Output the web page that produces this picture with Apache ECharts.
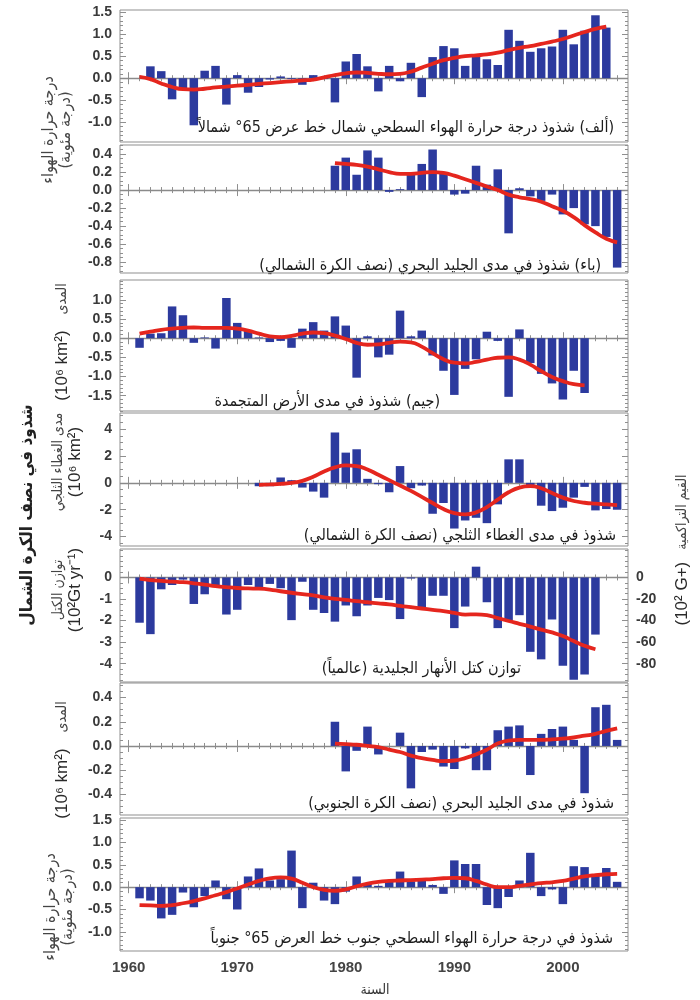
<!DOCTYPE html>
<html><head><meta charset="utf-8">
<script src="https://cdn.jsdelivr.net/npm/echarts@6/dist/echarts.min.js"></script>
<style>html,body{margin:0;padding:0;background:#fff}#c{width:700px;height:1000px}</style>
</head><body><div id="c"></div><script>
// ---------- data ----------
const YEARS = [1961,1962,1963,1964,1965,1966,1967,1968,1969,1970,1971,1972,1973,1974,1975,1976,1977,1978,1979,1980,1981,1982,1983,1984,1985,1986,1987,1988,1989,1990,1991,1992,1993,1994,1995,1996,1997,1998,1999,2000,2001,2002,2003,2004,2005];
const DECADE_LABELS = [1960,1970,1980,1990,2000];
const YEAR_TICKS = [1960,1961,1962,1963,1964,1965,1966,1967,1968,1969,1970,1971,1972,1973,1974,1975,1976,1977,1978,1979,1980,1981,1982,1983,1984,1985,1986,1987,1988,1989,1990,1991,1992,1993,1994,1995,1996,1997,1998,1999,2000,2001,2002,2003,2004,2005];

// (a) air temperature north of 65N
const airN = [null,0.27,0.16,-0.48,-0.25,-1.07,0.17,0.28,-0.60,0.07,-0.33,-0.20,-0.03,0.04,-0.02,-0.15,0.07,-0.02,-0.55,0.38,0.55,0.27,-0.30,0.28,-0.07,0.35,-0.43,0.48,0.73,0.68,0.28,0.50,0.43,0.30,1.10,0.85,0.60,0.68,0.72,1.10,0.77,1.08,1.43,1.15,null];
const airNSmooth = [0.03,-0.02,-0.12,-0.20,-0.25,-0.26,-0.24,-0.21,-0.19,-0.17,-0.15,-0.13,-0.11,-0.09,-0.07,-0.05,-0.03,0.02,0.07,0.11,0.13,0.12,0.10,0.09,0.10,0.15,0.24,0.33,0.41,0.46,0.50,0.52,0.54,0.58,0.64,0.69,0.73,0.78,0.83,0.89,0.97,1.05,1.12,1.17,null];
// (b) NH sea ice extent
const seaIceN = [null,null,null,null,null,null,null,null,null,null,null,null,null,null,null,null,null,null,0.27,0.36,0.17,0.44,0.36,-0.02,0.01,0.19,0.29,0.45,0.20,-0.05,-0.04,0.27,0.06,0.23,-0.48,0.02,-0.07,-0.12,-0.05,-0.27,-0.20,-0.38,-0.40,-0.52,-0.86];
const seaIceNSmooth = [null,null,null,null,null,null,null,null,null,null,null,null,null,null,null,null,null,null,0.30,0.29,0.28,0.26,0.23,0.20,0.18,0.18,0.19,0.20,0.19,0.16,0.12,0.08,0.04,0.00,-0.05,-0.08,-0.10,-0.13,-0.18,-0.23,-0.30,-0.39,-0.47,-0.54,-0.58];
// (c) frozen ground extent
const frozen = [-0.25,0.12,0.13,0.83,0.60,-0.12,0.02,-0.27,1.05,0.40,0.20,0.02,-0.10,-0.07,-0.25,0.25,0.42,0.20,0.57,0.33,-1.03,0.05,-0.50,-0.43,0.72,0.05,0.20,-0.45,-0.85,-1.48,-0.80,-0.55,0.17,-0.07,-1.53,0.23,-0.65,-0.93,-1.18,-1.60,-0.85,-1.43,null,null,null];
const frozenSmooth = [0.12,0.17,0.22,0.25,0.27,0.28,0.27,0.27,0.27,0.25,0.20,0.12,0.05,0.03,0.06,0.12,0.15,0.13,0.07,-0.02,-0.12,-0.17,-0.16,-0.12,-0.09,-0.11,-0.22,-0.39,-0.55,-0.64,-0.66,-0.62,-0.56,-0.51,-0.50,-0.56,-0.69,-0.86,-1.01,-1.12,-1.20,-1.23,null,null,null];
// (d) NH snow cover extent
const snow = [null,null,null,null,null,null,null,null,null,null,null,-0.25,-0.25,0.40,0.20,-0.35,-0.65,-1.10,3.75,2.25,2.50,0.30,-0.10,-0.70,1.25,-0.40,-0.20,-2.30,-1.50,-3.40,-2.80,-2.60,-3.00,-1.60,1.75,1.75,-0.20,-1.70,-2.10,-1.85,-1.10,-0.30,-2.05,-1.95,-2.00];
const snowSmooth = [null,null,null,null,null,null,null,null,null,null,null,-0.15,-0.12,-0.08,0.00,0.15,0.45,0.85,1.15,1.30,1.25,1.00,0.60,0.20,-0.20,-0.60,-1.05,-1.50,-1.95,-2.25,-2.35,-2.20,-1.80,-1.25,-0.70,-0.35,-0.25,-0.40,-0.75,-1.10,-1.35,-1.48,-1.55,-1.60,-1.65];
// (e) glacier mass balance
const glacier = [-2.10,-2.63,-0.55,-0.35,-0.10,-1.23,-0.78,-0.38,-1.72,-1.50,-0.35,-0.45,-0.30,-0.50,-1.98,-0.20,-1.50,-1.65,-2.05,-1.30,-1.80,-1.30,-0.95,-1.05,-1.93,-0.05,-1.38,-0.85,-0.85,-2.35,-1.35,0.50,-1.15,-2.35,-2.00,-1.75,-3.45,-3.80,-1.95,-4.10,-4.75,-4.50,-2.65,null,null];
const glacierCumulative = [-0.05,-0.12,-0.16,-0.19,-0.22,-0.27,-0.33,-0.40,-0.45,-0.49,-0.51,-0.52,-0.56,-0.64,-0.71,-0.77,-0.83,-0.92,-0.99,-1.04,-1.10,-1.15,-1.20,-1.25,-1.32,-1.38,-1.44,-1.50,-1.56,-1.64,-1.72,-1.71,-1.75,-1.88,-2.02,-2.15,-2.28,-2.42,-2.55,-2.72,-2.95,-3.17,-3.33,null,null];
// (f) SH sea ice extent
const seaIceS = [null,null,null,null,null,null,null,null,null,null,null,null,null,null,null,null,null,null,0.20,-0.21,-0.04,0.16,-0.07,0.00,0.11,-0.35,-0.05,-0.03,-0.17,-0.19,-0.02,-0.20,-0.20,0.13,0.16,0.17,-0.24,0.10,0.14,0.16,0.05,-0.39,0.32,0.34,0.05];
const seaIceSSmooth = [null,null,null,null,null,null,null,null,null,null,null,null,null,null,null,null,null,null,0.02,0.015,0.01,0.00,-0.01,-0.03,-0.05,-0.08,-0.10,-0.115,-0.125,-0.12,-0.10,-0.07,-0.03,0.02,0.045,0.05,0.05,0.05,0.055,0.06,0.07,0.085,0.10,0.125,0.145];
// (g) air temperature south of 65S
const airS = [-0.25,-0.30,-0.70,-0.62,-0.12,-0.45,-0.20,0.15,-0.27,-0.50,0.24,0.42,0.15,0.18,0.82,-0.47,0.10,-0.30,-0.38,-0.10,0.24,0.08,0.03,0.15,0.35,0.13,0.15,0.05,-0.15,0.60,0.52,0.52,-0.40,-0.47,-0.22,0.15,0.77,-0.20,-0.05,-0.38,0.47,0.45,0.27,0.43,0.12];
const airSSmooth = [-0.40,-0.41,-0.42,-0.40,-0.36,-0.31,-0.25,-0.18,-0.11,-0.03,0.06,0.14,0.20,0.22,0.19,0.10,0.00,-0.06,-0.08,-0.05,0.02,0.08,0.12,0.14,0.15,0.16,0.17,0.18,0.20,0.21,0.20,0.14,0.06,0.00,0.00,0.03,0.06,0.09,0.11,0.14,0.19,0.24,0.27,0.29,0.30];

const ticksAirN = [-1,-0.5,0,0.5,1,1.5];
const ticksSeaIceN = [-0.8,-0.6,-0.4,-0.2,0,0.2,0.4];
const ticksFrozen = [-1.5,-1,-0.5,0,0.5,1];
const ticksSnow = [-4,-2,0,2,4];
const ticksGlacier = [-4,-3,-2,-1,0];
const ticksSeaIceS = [-0.4,-0.2,0,0.2,0.4];
const ticksAirS = [-1,-0.5,0,0.5,1,1.5];

const labelsText = [
 '(ألف) شذوذ درجة حرارة الهواء السطحي شمال خط عرض 65° شمالاً',
 '(باء) شذوذ في مدى الجليد البحري (نصف الكرة الشمالي)',
 '(جيم) شذوذ في مدى الأرض المتجمدة',
 'شذوذ في مدى الغطاء الثلجي (نصف الكرة الشمالي)',
 'توازن كتل الأنهار الجليدية (عالمياً)',
 'شذوذ في مدى الجليد البحري (نصف الكرة الجنوبي)',
 'شذوذ في درجة حرارة الهواء السطحي جنوب خط العرض 65° جنوباً'
];

// ---------- layout ----------
const XMIN = 1959.2, XMAX = 2006;
const BAR = '#2C3A9E', RED = '#E5261E', FRAME = '#8f8f8f';
const NUMFONT = 'Liberation Sans, Arial, sans-serif';
const ARFONT = 'DejaVu Sans Condensed, DejaVu Sans, sans-serif';

const panels = [
 {bars: airN, line: airNSmooth, top: 10, h: 132, min: -1.45, max: 1.55, ticks: ticksAirN, minor: 0.1, dec: 1},
 {bars: seaIceN, line: seaIceNSmooth, top: 145, h: 128, min: -0.92, max: 0.5, ticks: ticksSeaIceN, minor: 0.05, dec: 1},
 {bars: frozen, line: frozenSmooth, top: 280, h: 131, min: -1.9, max: 1.52, ticks: ticksFrozen, minor: 0.1, dec: 1},
 {bars: snow, line: snowSmooth, top: 413, h: 133, min: -4.7, max: 5.2, ticks: ticksSnow, minor: 0.5, dec: 0},
 {bars: glacier, line: glacierCumulative, top: 549, h: 133, min: -4.85, max: 1.32, ticks: ticksGlacier, minor: 0.25, dec: 0, right: v => String(Math.round(v * 20))},
 {bars: seaIceS, line: seaIceSSmooth, top: 683, h: 132, min: -0.57, max: 0.52, ticks: ticksSeaIceS, minor: 0.05, dec: 1},
 {bars: airS, line: airSSmooth, top: 818, h: 133, min: -1.43, max: 1.55, ticks: ticksAirS, minor: 0.1, dec: 1}
];

function pairs(vals) { const out = []; vals.forEach((v, i) => { if (v !== null) out.push([YEARS[i], v]); }); return out; }
function steps(min, max, step) { const out = []; const a = Math.ceil(min / step - 1e-9), b = Math.floor(max / step + 1e-9); for (let k = a; k <= b; k++) out.push(+(k * step).toFixed(6)); return out; }

const grid = [], xAxis = [], yAxis = [], series = [];
const tickLine = {color: FRAME, width: 1};
panels.forEach((p, i) => {
  grid.push({left: 120, right: 72, top: p.top, height: p.h, show: true, borderColor: FRAME, borderWidth: 1, backgroundColor: 'transparent'});
  const xBase = {type: 'value', gridIndex: i, min: XMIN, max: XMAX, axisLine: {show: false}, splitLine: {show: false}};
  ['bottom', 'top'].forEach(pos => {
    xAxis.push(Object.assign({}, xBase, {position: pos,
      axisTick: {show: true, inside: true, length: 6, customValues: DECADE_LABELS, lineStyle: tickLine},
      axisLabel: {show: pos === 'bottom' && i === panels.length - 1, customValues: DECADE_LABELS, margin: 9,
        fontFamily: NUMFONT, fontWeight: 'bold', fontSize: 15, color: '#444', formatter: v => String(v)}}));
    xAxis.push(Object.assign({}, xBase, {position: pos,
      axisTick: {show: true, inside: true, length: 3, customValues: YEAR_TICKS, lineStyle: tickLine},
      axisLabel: {show: false}}));
  });
  const yBase = {type: 'value', gridIndex: i, min: p.min, max: p.max, axisLine: {show: false}, splitLine: {show: false}};
  const fmt = v => p.dec ? v.toFixed(p.dec) : String(Math.round(v));
  const minorVals = steps(p.min, p.max, p.minor);
  ['left', 'right'].forEach(pos => {
    const showLab = pos === 'left' || !!p.right;
    yAxis.push(Object.assign({}, yBase, {position: pos,
      axisTick: {show: true, inside: true, length: 6, customValues: p.ticks, lineStyle: tickLine},
      axisLabel: {show: showLab, customValues: p.ticks, margin: 8,
        align: pos === 'left' ? 'right' : 'left',
        fontFamily: NUMFONT, fontWeight: 'bold', fontSize: 14, color: '#3a3a3a',
        formatter: pos === 'left' ? fmt : (p.right || fmt)}}));
    yAxis.push(Object.assign({}, yBase, {position: pos,
      axisTick: {show: true, inside: true, length: 3, customValues: minorVals, lineStyle: tickLine},
      axisLabel: {show: false}}));
  });
  series.push({type: 'bar', xAxisIndex: i * 4, yAxisIndex: i * 4, data: pairs(p.bars), barWidth: 8.5,
    itemStyle: {color: BAR}, silent: true, z: 2,
    markLine: {silent: true, symbol: 'none', label: {show: false}, lineStyle: {color: '#8a8a8a', width: 1.3, type: 'solid'},
      data: [{yAxis: 0}], z: 1}});
  series.push({type: 'line', xAxisIndex: i * 4, yAxisIndex: i * 4, data: pairs(p.line), smooth: 0.5,
    showSymbol: false, symbol: 'none', lineStyle: {color: RED, width: 3.8}, silent: true, z: 3});
});

const AR = s => '\u202B' + s + '\u202C';
const graphic = [];
const labelPos = [[614, 128], [601, 266], [440, 402], [616, 536], [521, 669], [614, 804], [613, 939]];
labelsText.forEach((t, i) => {
  graphic.push({type: 'text', x: labelPos[i][0], y: labelPos[i][1], silent: true, z: 10,
    style: {text: AR(t), font: '16px ' + ARFONT, fill: '#1c1c1c', align: 'right', verticalAlign: 'middle', textAlign: 'right', textVerticalAlign: 'middle'}});
});
const rich = {
  t: {fontFamily: ARFONT, fontSize: 16, fill: '#444', lineHeight: 17},
  a: {fontFamily: ARFONT, fontSize: 14, fill: '#444', lineHeight: 16},
  u: {fontFamily: NUMFONT, fontSize: 17, fill: '#2a2a2a', lineHeight: 17},
  b: {fontFamily: ARFONT, fontSize: 17, fontWeight: 'bold', fill: '#222'}
};
function vtext(x, y, text) {
  graphic.push({type: 'text', x: x, y: y, rotation: Math.PI / 2, silent: true, z: 10,
    style: {text: text, rich: rich, align: 'center', verticalAlign: 'middle', textAlign: 'center', textVerticalAlign: 'middle'}});
}
vtext(57, 130, '{t|' + AR('درجة حرارة الهواء') + '}\n{t|' + AR('(درجة مئوية)') + '}');
vtext(62, 342, '{u|(10⁶ km²)}{a|    ' + AR('المدى') + '}');
vtext(67, 462, '{a|' + AR('مدى الغطاء الثلجي') + '}\n{u|(10⁶ km²)}');
vtext(67, 590, '{a|' + AR('توازن الكتل') + '}\n{u|(10²Gt yr⁻¹)}');
vtext(62, 760, '{u|(10⁶ km²)}{a|    ' + AR('المدى') + '}');
vtext(59, 907, '{t|' + AR('درجة حرارة الهواء') + '}\n{t|' + AR('(درجة مئوية)') + '}');
vtext(28, 515, '{b|' + AR('شذوذ في نصف الكرة الشمال') + '}');
vtext(682, 550, '{u|(10² G+)}{a|   ' + AR('القيم التراكمية') + '}');
graphic.push({type: 'text', x: 375, y: 990, silent: true, z: 10,
  style: {text: 'السنة', font: '14px ' + ARFONT, fill: '#333', align: 'center', verticalAlign: 'middle', textAlign: 'center', textVerticalAlign: 'middle'}});

const chart = echarts.init(document.getElementById('c'), null, {renderer: 'canvas'});
chart.setOption({animation: false, backgroundColor: '#fff', grid, xAxis, yAxis, series, graphic});
</script></body></html>
